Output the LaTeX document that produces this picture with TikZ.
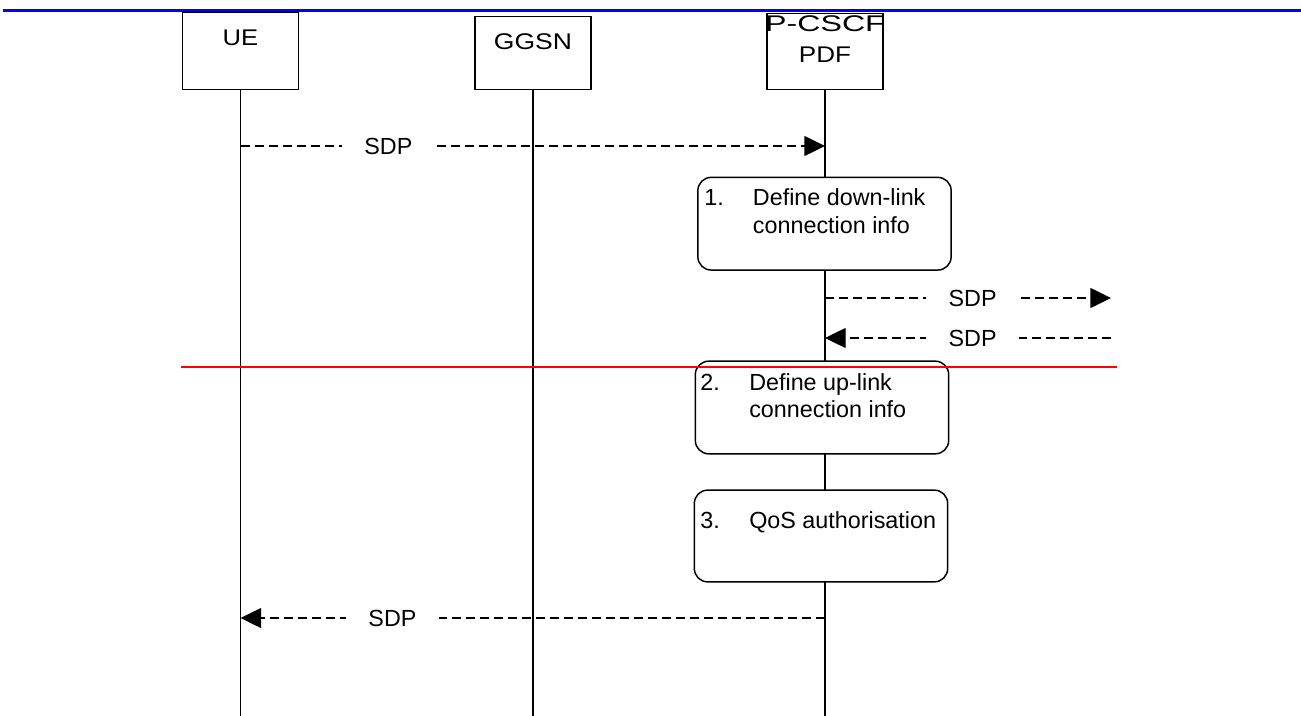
\documentclass[tikz,border=0pt]{standalone}
\usepackage{fontspec}
\setmainfont{Liberation Sans}
\usepackage{tikz}
\usetikzlibrary{arrows.meta,calc}
\tikzstyle{head}=[rectangle, draw=black, line width=1.1pt, fill=white, inner sep=0pt, minimum width=87.3pt]
\tikzstyle{headtxt}=[font=\fontsize{17pt}{22pt}\selectfont, inner sep=0pt, anchor=base]
\tikzstyle{proc}=[rectangle, rounded corners=10pt, draw=black, line width=1.1pt, fill=white, minimum width=190pt, minimum height=69.5pt, inner sep=0pt]
\tikzstyle{annot}=[font=\fontsize{17.5pt}{20.7pt}\selectfont, inner sep=0pt, anchor=base west, align=left]
\tikzstyle{msg}=[dash pattern=on 6.75pt off 3.75pt, line width=1pt, -{Triangle[length=15.5pt,width=15pt]}]
\tikzstyle{sdp}=[font=\fontsize{17.5pt}{20pt}\selectfont, fill=white, inner xsep=17pt, inner ysep=1pt]
\tikzstyle{life}=[line width=1pt]
\newcommand{\wide}[2]{\scalebox{#1}[1]{#2}}
\newcommand{\drawentities}[0]
{
  \node[head, minimum height=58pt](ue) at (240.5,50.7){};
  \node[head, minimum height=54.5pt](ggsn) at (533,53){};
  \node[head, minimum height=57pt](pcscf) at (825,51.3){};
  \node[headtxt](uetxt) at (240.5,46) {\wide{1.13}{UE}};
  \node[headtxt](ggsntxt) at (533,50) {\wide{1.17}{GGSN}};
  \node[headtxt](pcscftxt) at (825,31.5) {\wide{1.42}{P-CSCF}};
  \node[headtxt](pdftxt) at (825,63) {\wide{1.15}{PDF}};
}

\begin{document}
\begin{tikzpicture}[x=0.75pt,y=-0.75pt]
	\useasboundingbox (0,0) rectangle (1301,716);
	\draw[blue, line width=2.6pt] (3,10.5) -- (1301,10.5);

	\drawentities{}

	\coordinate (bottom) at (0,716);
	\draw[life] (ue.south) -- (ue.south |- bottom);
	\draw[life] (ggsn.south) -- (ggsn.south |- bottom);
	\draw[life] (pcscf.south) -- (pcscf.south |- bottom);

	\coordinate (r1) at (0,146);
	\coordinate (out1) at (1111,298);
	\coordinate (in1) at (1111,338);
	\coordinate (r4) at (0,618);

	\draw[msg] (ue |- r1) -- node[sdp, pos=0.253](sdp1){SDP} (pcscf |- r1);
	\draw[msg] (pcscf |- out1) -- node[sdp, pos=0.516](sdp2){SDP} (out1);
	\draw[msg] (in1) -- node[sdp, pos=0.484](sdp3){SDP} (pcscf |- in1);
	\draw[msg] (pcscf |- r4) -- node[sdp, pos=0.74](sdp4){SDP} (ue |- r4);

	\node[proc](step1) at (824.5,223.7){};
	\node[proc](step2) at (822,407.5){};
	\node[proc, minimum height=68.8pt](step3) at (821,536){};
	% base of a two line node is its last line
	\node[annot](num1) at (704,206) {1.};
	\node[annot](txt1) at (752.7,233.5) {Define down-link\\connection info};
	\node[annot](num2) at (700,390) {2.};
	\node[annot](txt2) at (749,417.7) {Define up-link\\connection info};
	\node[annot](num3) at (700,528.3) {3.};
	\node[annot](txt3) at (749,528.3) {QoS authorisation};

	\coordinate (cutl) at (181,366.7);
	\coordinate (cutr) at (1117,366.7);
	\draw[red, line width=1.5pt] (cutl) -- (cutr);
\end{tikzpicture}
\end{document}
